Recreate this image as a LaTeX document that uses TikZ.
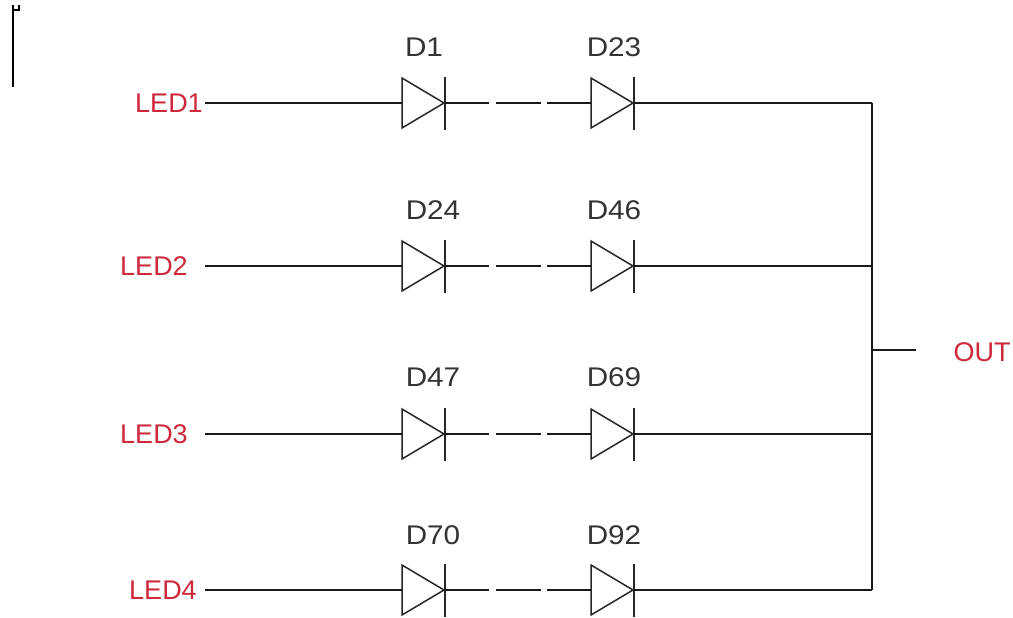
\documentclass[tikz,border=0pt]{standalone}
\usepackage{fontspec}
\setmainfont[FakeStretch=1.1]{Liberation Sans}
\newfontfamily\sigfont{Liberation Sans}
\definecolor{ledred}{RGB}{205,40,60}
\tikzset{
  wire/.style={line width=1.6pt,black!90},
  sym/.style={line width=1.5pt,black!85},
  part/.style={inner sep=0pt,font=\fontsize{27}{27}\selectfont,text=black!80},
  sig/.style={inner sep=0pt,font=\sigfont\fontsize{27}{27}\selectfont,text=ledred}
}
\begin{document}
\begin{tikzpicture}[x=1pt,y=-1pt]
\useasboundingbox (0,0) rectangle (1013,618);
\foreach \r/\y/\led/\lx/\a/\ax/\b/\by in {
  1/103/LED1/169/D1/424/D23/47,
  2/266/LED2/154/D24/433/D46/210,
  3/434/LED3/154/D47/433/D69/377,
  4/590/LED4/163/D70/433/D92/535}{
  \node[sig] (led\r) at (\lx,\y) {\led};
  \coordinate (start\r) at (205,\y);
  \coordinate (bus\r) at (872,\y);
  \node[part] (pa\r) at (\ax,\by) {\a};
  \node[part] (pb\r) at (614,\by) {\b};
  \coordinate (aL\r) at (402,\y);
  \coordinate (aK\r) at (445,\y);
  \draw[sym,line join=miter] (402,\y-25) -- (444,\y) -- (402,\y+25) -- cycle;
  \draw[sym] (445,\y-26) -- (445,\y+27);
  \coordinate (bL\r) at (591,\y);
  \coordinate (bK\r) at (634,\y);
  \draw[sym,line join=miter] (591,\y-25) -- (633,\y) -- (591,\y+25) -- cycle;
  \draw[sym] (634,\y-26) -- (634,\y+27);
  \coordinate (g1\r) at (489,\y);
  \coordinate (g2\r) at (496,\y);
  \coordinate (g3\r) at (541,\y);
  \coordinate (g4\r) at (547,\y);
  \draw[wire] (start\r) -- (aL\r);
  \draw[wire] (aK\r) -- (g1\r);
  \draw[wire] (g2\r) -- (g3\r);
  \draw[wire] (g4\r) -- (bL\r);
  \draw[wire] (bK\r) -- (bus\r);
}
\draw[wire] (bus1) -- (bus4);
\coordinate (tap) at (872,350);
\coordinate (tapend) at (916,350);
\draw[wire] (tap) -- (tapend);
\node[sig] (out) at (982,352) {OUT};
\draw[line width=1.6pt] (13,87) -- (13,5);
\draw[line width=1.5pt] (13,10) -- (19,10) -- (19,5);
\end{tikzpicture}
\end{document}
